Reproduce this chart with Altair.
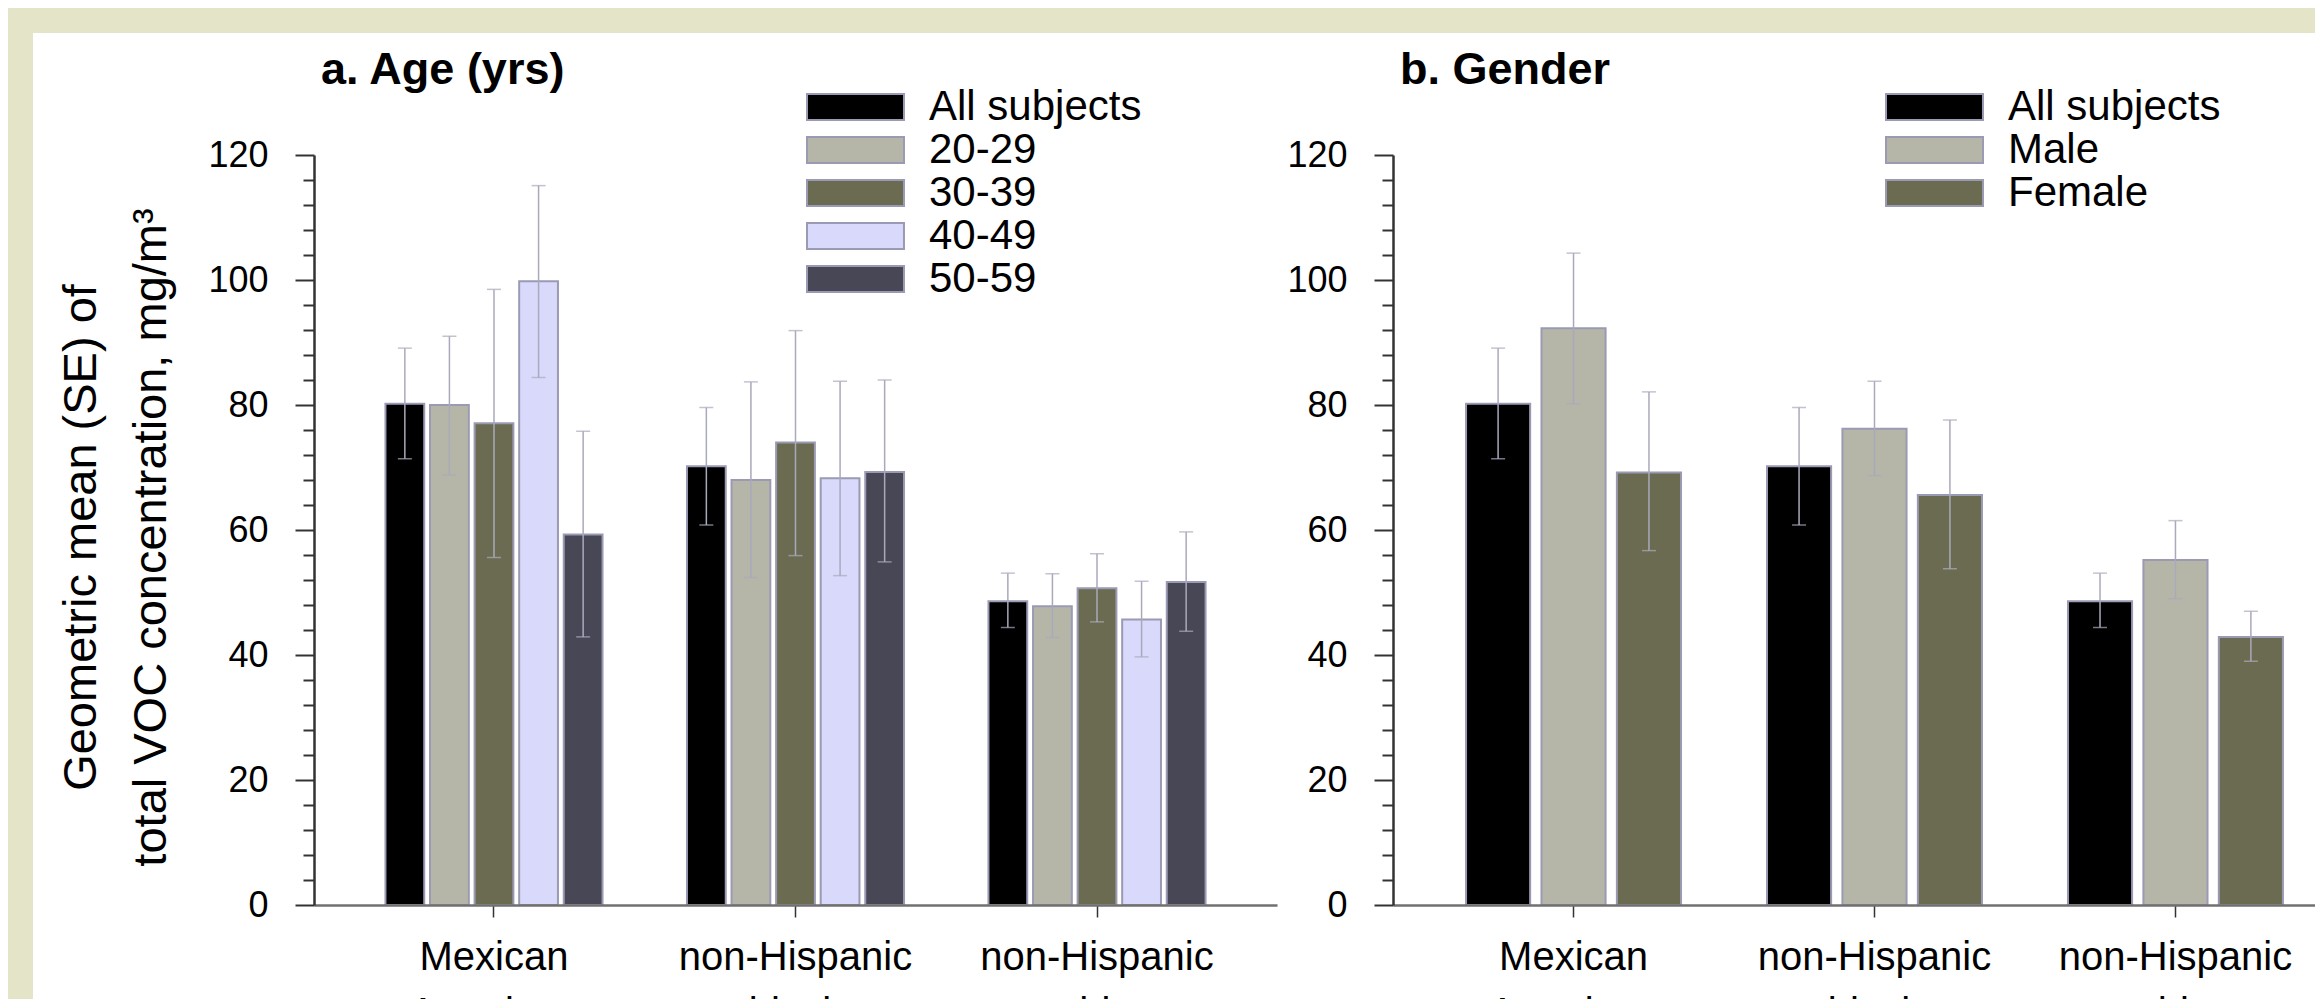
import altair as alt
import pandas as pd

groups = ["Mexican American", "non-Hispanic black", "non-Hispanic white"]

# panel a: age
age_series = ["All subjects", "20-29", "30-39", "40-49", "50-59"]
age_colors = ["#000000", "#B6B6A8", "#6B6B51", "#D9D9FB", "#474755"]
all_mean = [80.2, 70.2, 48.6]
all_lo = [71.4, 60.8, 44.4]
all_hi = [89.1, 79.6, 53.1]
a2029_mean = [80.0, 68.0, 47.8]
a2029_lo = [68.8, 52.4, 42.8]
a2029_hi = [91.0, 83.7, 53.0]
a3039_mean = [77.1, 74.0, 50.7]
a3039_lo = [55.6, 55.9, 45.3]
a3039_hi = [98.5, 91.9, 56.2]
a4049_mean = [99.8, 68.3, 45.7]
a4049_lo = [84.4, 52.7, 39.7]
a4049_hi = [115.1, 83.8, 51.8]
a5059_mean = [59.3, 69.3, 51.7]
a5059_lo = [42.9, 54.9, 43.8]
a5059_hi = [75.8, 84.0, 59.7]

# panel b: gender
gender_series = ["All subjects", "Male", "Female"]
gender_colors = ["#000000", "#B6B6A8", "#6B6B51"]
male_mean = [92.3, 76.2, 55.2]
male_lo = [80.2, 68.7, 49.0]
male_hi = [104.3, 83.8, 61.5]
female_mean = [69.2, 65.6, 42.9]
female_lo = [56.7, 53.8, 39.0]
female_hi = [82.1, 77.6, 47.0]

y_title = ["Geometric mean (SE) of", "total VOC concentration, mg/m\u00b3"]
FONT = "Liberation Sans"


def build(series, means, los, his):
    rows = []
    for s, m, l, h in zip(series, means, los, his):
        for g, mv, lv, hv in zip(groups, m, l, h):
            rows.append({"group": g, "series": s, "mean": mv, "lo": lv, "hi": hv})
    return pd.DataFrame(rows)


df_age = build(age_series,
               [all_mean, a2029_mean, a3039_mean, a4049_mean, a5059_mean],
               [all_lo, a2029_lo, a3039_lo, a4049_lo, a5059_lo],
               [all_hi, a2029_hi, a3039_hi, a4049_hi, a5059_hi])
df_gender = build(gender_series,
                  [all_mean, male_mean, female_mean],
                  [all_lo, male_lo, female_lo],
                  [all_hi, male_hi, female_hi])

legend_path = "M-1,-1 L6.46,-1 L6.46,1 L-1,1 Z"


def make_y_axis(ytitle):
    kw = dict(values=list(range(0, 121, 4)),
              labelExpr="datum.value % 20 == 0 ? datum.label : ''",
              labelOverlap=False, labelSeparation=0,
              tickSize={"condition": {"test": "datum.value % 20 == 0",
                                      "value": 19}, "value": 11},
              tickColor="#333333", tickWidth=2,
              domainColor="#333333", domainWidth=2.5,
              labelFontSize=36, labelFont=FONT, labelColor="black",
              labelPadding=27, grid=False, zindex=1,
              titleFont=FONT, titleFontSize=47,
              titleFontWeight="normal", titleColor="black",
              titleLineHeight=70, titlePadding=32, titleY=382)
    kw["title"] = ytitle if ytitle is not None else ""
    return alt.Axis(**kw)


def panel(df, series, colors, width, height, xpi, xpo, xalign, opi, title,
          ytitle, rect_x, rect_x2):
    x_enc = alt.X("group:N", sort=groups, title=None,
                  scale=alt.Scale(domain=groups, paddingInner=xpi,
                                  paddingOuter=xpo, align=xalign),
                  axis=alt.Axis(labelExpr="split(datum.label, ' ')",
                                labelFontSize=40, labelFont=FONT,
                                labelColor="black", labelLineHeight=56,
                                labelAngle=0, labelPadding=20,
                                labelLimit=500,
                                tickSize=12, tickColor="#333333",
                                tickWidth=1.5, domainColor="#707070",
                                domainWidth=2.5, grid=False, zindex=1))
    off_enc = alt.XOffset("series:N", sort=series,
                          scale=alt.Scale(domain=series, paddingInner=opi,
                                          paddingOuter=0))
    yscale = alt.Scale(domain=[0, 120], nice=False)
    y_axis = make_y_axis(ytitle)

    bg = alt.Chart(pd.DataFrame({"k": [0]})).mark_rect(
        color="white").encode(
        x=alt.value(rect_x), x2=alt.value(rect_x2),
        y=alt.value(-122), y2=alt.value(height + 94))

    base = alt.Chart(df).encode(x=x_enc, xOffset=off_enc)
    bars = base.mark_bar(stroke="#9A9AB4", strokeWidth=2).encode(
        y=alt.Y("mean:Q", scale=yscale, axis=y_axis),
        color=alt.Color("series:N", sort=series,
                        scale=alt.Scale(domain=series, range=colors),
                        legend=alt.Legend(orient="none", legendX=485,
                                          legendY=-69, padding=0, title=None,
                                          labelFontSize=42, labelFont=FONT,
                                          labelColor="black", labelOffset=88,
                                          labelLimit=500,
                                          symbolType=legend_path,
                                          symbolSize=676,
                                          symbolStrokeColor="#9A9AB4",
                                          symbolStrokeWidth=2,
                                          symbolOpacity=1, rowPadding=1)))
    err = base.mark_rule(color="#A9A9BC", strokeWidth=1.5).encode(
        y=alt.Y("lo:Q", scale=yscale, axis=y_axis), y2="hi:Q")
    cap_hi = base.mark_tick(color="#A9A9BC", size=14, thickness=1.5,
                            orient="horizontal").encode(
        y=alt.Y("hi:Q", scale=yscale, axis=y_axis))
    cap_lo = base.mark_tick(color="#A9A9BC", size=14, thickness=1.5,
                            orient="horizontal").encode(
        y=alt.Y("lo:Q", scale=yscale, axis=y_axis))
    return alt.layer(bg, bars, err, cap_hi, cap_lo).properties(
        width=width, height=height,
        title=alt.TitleParams(title, anchor="start", frame="group",
                              font=FONT, fontSize=45, fontWeight="bold",
                              color="black", baseline="alphabetic",
                              offset=-96, dx=7))


pa = panel(df_age, age_series, age_colors, 963, 750, 0.28, 0.237, 0.5, 0.13,
           "a. Age (yrs)", y_title, -281, 1079)
pb = panel(df_gender, gender_series, gender_colors, 922, 750, 0.2857, 0.1746,
           0.695, 0.15, "b. Gender", None, -113, 922)

chart = alt.hconcat(pa, pb, spacing=116, bounds="flush").resolve_scale(
    x="independent", y="independent", xOffset="independent",
    color="independent",
).resolve_legend(color="independent").properties(
    padding={"left": 25, "top": 25, "right": 0, "bottom": 0},
    background="#E4E4C8",
).configure_view(strokeWidth=0).configure_axis(labelOverlap=False)

chart.save("out.html", embed_options={"renderer": "svg", "actions": False})
